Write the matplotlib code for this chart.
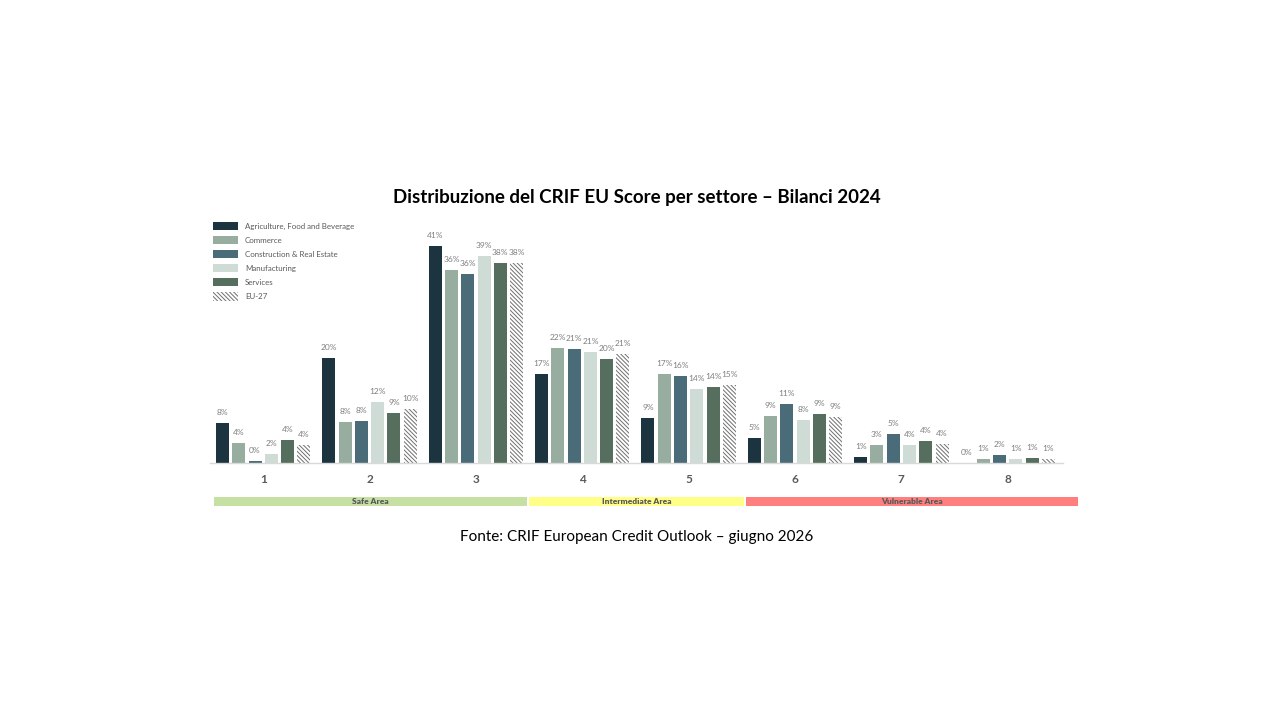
import matplotlib
matplotlib.use("Agg")
import matplotlib.pyplot as plt
from matplotlib.patches import Patch
import numpy as np

plt.rcParams['font.family'] = ['Lato', 'DejaVu Sans']
plt.rcParams['hatch.linewidth'] = 0.7

categories = ["1", "2", "3", "4", "5", "6", "7", "8"]
series_names = ["Agriculture, Food and Beverage", "Commerce", "Construction & Real Estate",
                "Manufacturing", "Services", "EU-27"]
agriculture = [7.6, 19.8, 41.0, 16.8, 8.5, 4.7, 1.1, 0.0]
commerce = [3.8, 7.8, 36.5, 21.7, 16.8, 8.9, 3.4, 0.8]
construction = [0.4, 7.9, 35.7, 21.5, 16.4, 11.2, 5.5, 1.5]
manufacturing = [1.7, 11.5, 39.1, 21.0, 14.0, 8.1, 3.4, 0.8]
services = [4.3, 9.5, 37.8, 19.7, 14.4, 9.3, 4.2, 0.9]
eu27 = [3.4, 10.2, 37.8, 20.6, 14.7, 8.7, 3.6, 0.8]

agriculture_lbl = ["8%", "20%", "41%", "17%", "9%", "5%", "1%", "0%"]
commerce_lbl = ["4%", "8%", "36%", "22%", "17%", "9%", "3%", "1%"]
construction_lbl = ["0%", "8%", "36%", "21%", "16%", "11%", "5%", "2%"]
manufacturing_lbl = ["2%", "12%", "39%", "21%", "14%", "8%", "4%", "1%"]
services_lbl = ["4%", "9%", "38%", "20%", "14%", "9%", "4%", "1%"]
eu27_lbl = ["4%", "10%", "38%", "21%", "15%", "9%", "4%", "1%"]

areas = ["Safe Area", "Intermediate Area", "Vulnerable Area"]
area_start = [-0.46, 2.50, 4.54]
area_end = [2.48, 4.52, 7.66]
area_colors = ["#c6e0a4", "#ffff88", "#ff7f7f"]

values = [agriculture, commerce, construction, manufacturing, services, eu27]
labels = [agriculture_lbl, commerce_lbl, construction_lbl, manufacturing_lbl, services_lbl, eu27_lbl]
colors = ["#1b3440", "#97ad9f", "#4a6b78", "#cfdcd5", "#566e5e", "white"]

fig = plt.figure(figsize=(12.8, 7.2), dpi=100)
ax = fig.add_axes([210/1280, 1-463/720, 853/1280, 238/720])

x = np.arange(len(categories))
pitch = 0.153
width = 0.122
for i, (vals, lbls, col) in enumerate(zip(values, labels, colors)):
    pos = x + (i - 2.5) * pitch
    if i == 5:
        bars = ax.bar(pos, vals, width, color="white", edgecolor="#6f6f6f", hatch="\\\\\\\\\\\\\\\\", linewidth=0)
    else:
        bars = ax.bar(pos, vals, width, color=col, linewidth=0)
    for b, l in zip(bars, lbls):
        ax.text(b.get_x() + b.get_width()/2, b.get_height() + 1.3, l, ha="center", va="bottom",
                fontsize=6, color="#7f7f7f")

ax.set_xlim(-0.5, 7.52)
ax.set_ylim(0, 45)
ax.set_xticks(x)
ax.set_xticklabels(categories, fontsize=8.5, color="#595959", fontweight="bold")
ax.tick_params(axis="x", length=0, pad=8)
ax.set_yticks([])
for s in ["top", "right", "left"]:
    ax.spines[s].set_visible(False)
ax.spines["bottom"].set_color("#d9d9d9")
ax.spines["bottom"].set_linewidth(1)

# area strip
bax = fig.add_axes([210/1280, 1-506/720, 853/1280, 9/720])
bax.set_xlim(-0.5, 7.52)
bax.set_ylim(0, 1)
for name, s, e, c in zip(areas, area_start, area_end, area_colors):
    bax.barh(0.5, e - s, left=s, height=1, color=c, clip_on=False, linewidth=0)
    bax.text((s + e) / 2, 0.45, name, ha="center", va="center", fontsize=6,
             fontweight="heavy", color="#595959", clip_on=False)
bax.axis("off")

handles = [Patch(facecolor=c, edgecolor="none") for c in colors[:5]]
handles.append(Patch(facecolor="white", edgecolor="#6f6f6f", hatch="\\\\\\\\\\\\\\\\", linewidth=0))
fig.legend(handles, series_names, loc="upper left", bbox_to_anchor=(210/1280, 1-219/720),
           frameon=False, fontsize=5.7, handlelength=3.1, handleheight=1.2,
           labelspacing=0.75, handletextpad=0.9, labelcolor="#595959", borderaxespad=0)

fig.text(637/1280, 1-197/720, "Distribuzione del CRIF EU Score per settore – Bilanci 2024",
         ha="center", va="center", fontsize=13.5, fontweight="bold", color="black")
fig.text(637/1280, 1-537/720, "Fonte: CRIF European Credit Outlook – giugno 2026",
         ha="center", va="center", fontsize=11, color="black")

fig.savefig("out.png", dpi=100, facecolor="white")
